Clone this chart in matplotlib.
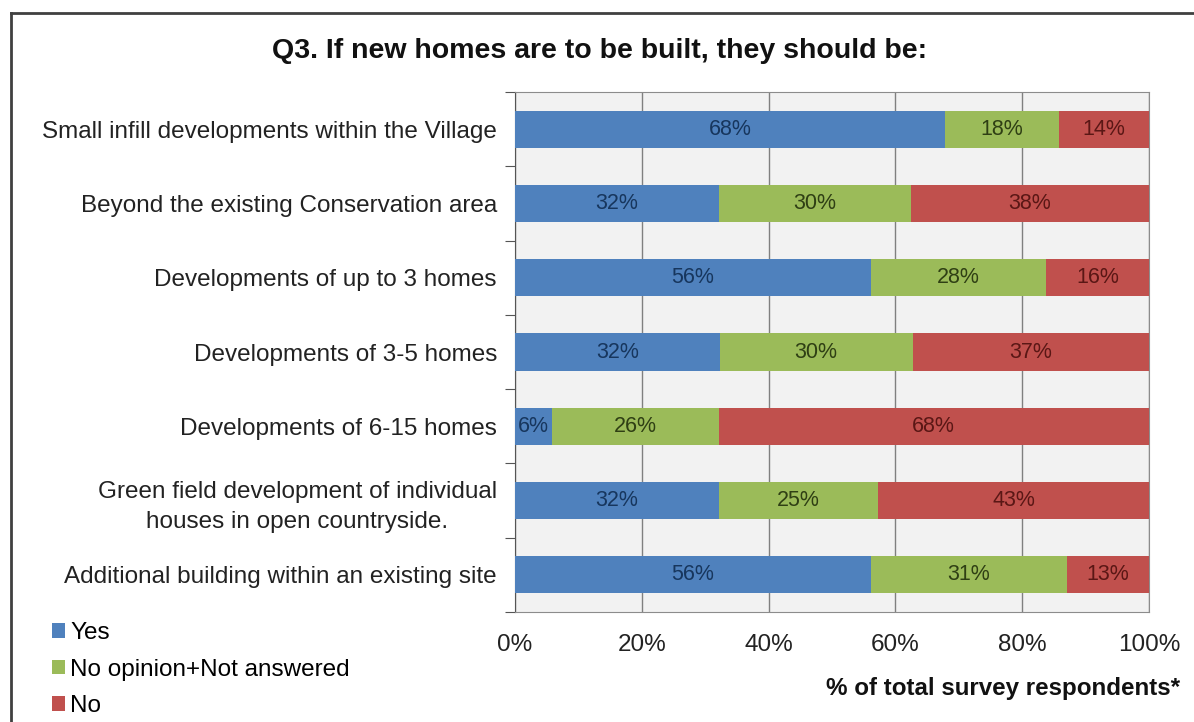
import numpy as np
import matplotlib.pyplot as plt
from matplotlib.lines import Line2D

plt.rcParams['font.family'] = ['Liberation Sans', 'DejaVu Sans']

# Data (% of respondents)
categories = [
    'Small infill developments within the Village',
    'Beyond the existing Conservation area',
    'Developments of up to 3 homes',
    'Developments of 3-5 homes',
    'Developments of 6-15 homes',
    'Green field development of individual\nhouses in open countryside.',
    'Additional building within an existing site',
]
yes = [67.9, 32.2, 56.1, 32.3, 5.9, 32.2, 56.1]
no_opinion = [17.9, 30.2, 27.6, 30.4, 26.2, 25.1, 30.9]
no = [14.2, 37.6, 16.3, 37.3, 67.9, 42.7, 13.0]
series_names = ['Yes', 'No opinion+Not answered', 'No']

colors = ['#4F81BD', '#9BBB59', '#C0504D']
label_colors = ['#17365D', '#2F3F14', '#5A1715']

fig = plt.figure(figsize=(11.94, 7.22), dpi=100)
ax = fig.add_axes([515 / 1194, 1 - 612 / 722, 634 / 1194, 520 / 722])
ax.set_facecolor('#F2F2F2')

y = np.arange(len(categories))
left = np.zeros(len(categories))
bars = []
for vals, col, lcol, name in zip([yes, no_opinion, no], colors, label_colors, series_names):
    vals = np.array(vals)
    b = ax.barh(y, vals, left=left, height=0.5, color=col, label=name, zorder=3)
    bars.append(b)
    for yi, l, v in zip(y, left, vals):
        ax.text(l + v / 2, yi, '{:.0f}%'.format(v), ha='center', va='center',
                fontsize=15.5, color=lcol, zorder=4)
    left = left + vals

ax.set_xlim(0, 100)
ax.set_ylim(len(categories) - 0.5, -0.5)
ax.set_xticks(np.arange(0, 101, 20))
ax.set_xticklabels(['{}%'.format(t) for t in range(0, 101, 20)], fontsize=17.5, color='#222222')
ax.tick_params(axis='x', length=0, pad=16)
ax.xaxis.grid(True, color='#808080', linewidth=1, zorder=1)

ax.set_yticks(np.arange(-0.5, len(categories)), minor=False)
ax.set_yticklabels([])
ax.set_yticks(y, minor=True)
ax.set_yticklabels(categories, minor=True, fontsize=17.5, color='#222222',
                   multialignment='center', linespacing=1.45)
ax.tick_params(axis='y', which='major', length=7, color='#555555', direction='out')
ax.tick_params(axis='y', which='minor', length=0, pad=13)

for side in ['top', 'right', 'bottom']:
    ax.spines[side].set_color('#8C8C8C')
ax.spines['left'].set_color('#555555')

fig.text(600 / 1194, 1 - 51 / 722, 'Q3. If new homes are to be built, they should be:',
         ha='center', va='center', fontsize=20.5, fontweight='bold', color='#111111')
fig.text(1180 / 1194, 1 - 689 / 722, '% of total survey respondents*',
         ha='right', va='center', fontsize=17.4, fontweight='bold', color='#111111')

fig.legend(handles=bars, labels=series_names, loc='upper left',
           bbox_to_anchor=(52 / 1194, 1 - 622 / 722), frameon=False,
           fontsize=17.5, handlelength=0.55, handleheight=0.55, handletextpad=0.2,
           labelspacing=0.6, borderpad=0, borderaxespad=0)

# outer frame (left and top edges visible in the reference)
fig.add_artist(Line2D([11 / 1194, 11 / 1194], [0, 1 - 13 / 722], color='#404040', linewidth=2))
fig.add_artist(Line2D([11 / 1194, 1], [1 - 13 / 722, 1 - 13 / 722], color='#404040', linewidth=2))

fig.savefig('out.png', dpi=100)
